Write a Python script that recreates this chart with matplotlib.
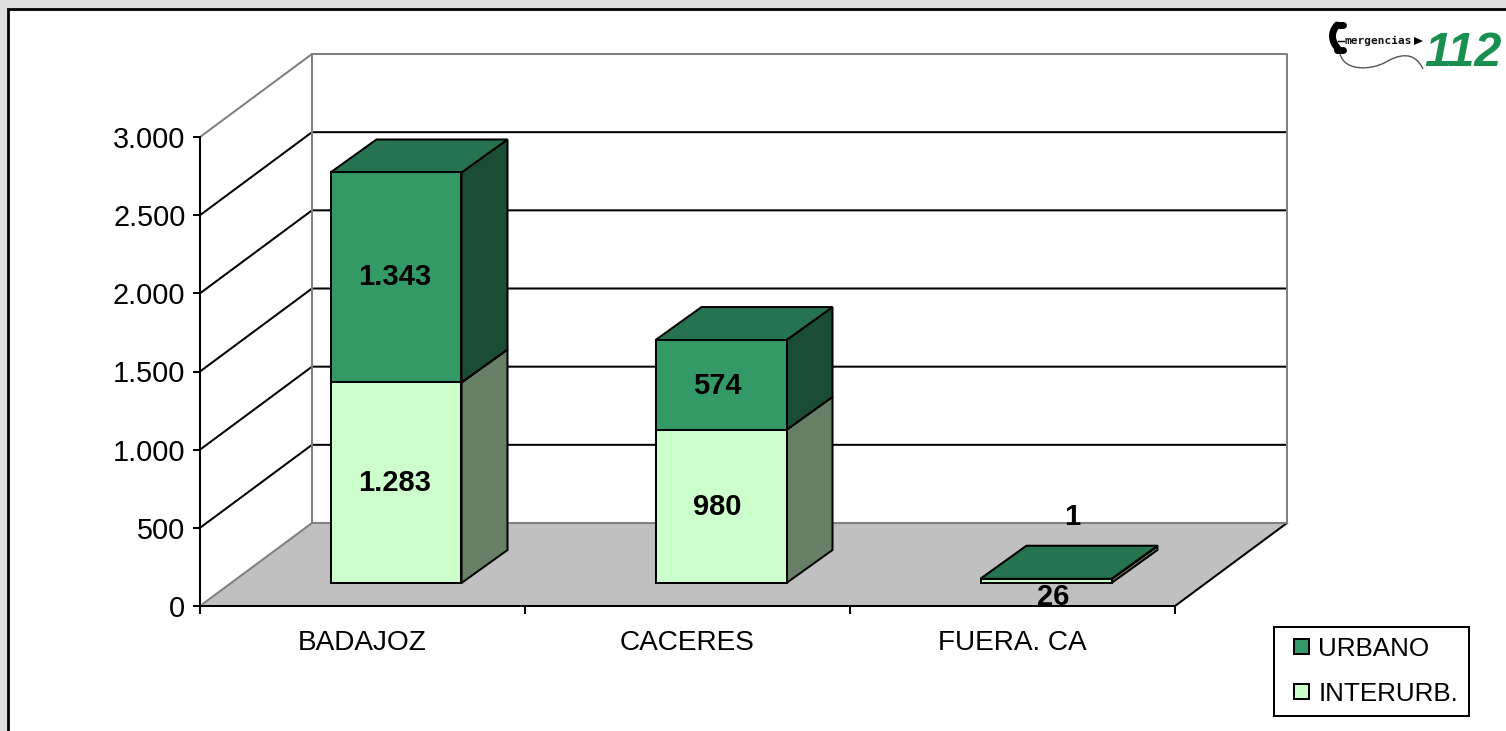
import matplotlib
matplotlib.use("Agg")
import matplotlib.pyplot as plt
from matplotlib.patches import Polygon, Patch, PathPatch, Rectangle
from matplotlib.path import Path
from matplotlib.ticker import FuncFormatter
from matplotlib.legend_handler import HandlerPatch

plt.rcParams['font.family'] = ['Liberation Sans', 'DejaVu Sans']

categories = ['BADAJOZ', 'CACERES', 'FUERA. CA']
interurb = [1283, 980, 26]
urbano = [1343, 574, 1]
interurb_labels = ['1.283', '980', '26']
urbano_labels = ['1.343', '574', '1']
yticks = [0, 500, 1000, 1500, 2000, 2500, 3000]

W, H = 1506, 731
UNIT_Y = 3000 / 469        # value units per pixel
UNIT_X = 3 / 975           # category units per pixel
WALL_DX, WALL_DY = 112 * UNIT_X, 83 * UNIT_Y
BAR_W = 131 * UNIT_X
BAR_OFF_X, BAR_OFF_Y = 33.5 * UNIT_X, 23 * UNIT_Y
BAR_DX, BAR_DY = 46 * UNIT_X, 33 * UNIT_Y
LW = 1.45
GREY = '#808080'

C_URB, C_URB_TOP, C_URB_SIDE = '#339966', '#267350', '#1a4d33'
C_INT, C_INT_TOP, C_INT_SIDE = '#ccffcc', '#99bf99', '#667f66'

fig = plt.figure(figsize=(W / 100, H / 100), dpi=100, facecolor='#dedede')

# page frame and logo, in pixel coordinates
bg = fig.add_axes([0, 0, 1, 1], zorder=0)
bg.set_xlim(0, W)
bg.set_ylim(H, 0)
bg.axis('off')
bg.add_patch(Polygon([(8, 9), (W + 5, 9), (W + 5, H + 5), (8, H + 5)],
                     facecolor='white', edgecolor='black', lw=2.0))
bg.text(1378.5, 40.5, 'mergencias', family='DejaVu Sans Mono', fontsize=8, weight='bold',
        ha='center', va='center', color='#111111')
bg.add_patch(Polygon([(1414, 37), (1423, 41), (1414, 45)], facecolor='black', edgecolor='none'))
bg.text(1463, 53, '112', family='Liberation Sans', fontsize=35, weight='bold', style='italic',
        ha='center', va='center', color='#1a9050')
bg.add_patch(PathPatch(Path([(1337, 25), (1327, 37), (1339, 50)],
                            [Path.MOVETO, Path.CURVE3, Path.CURVE3]),
                       facecolor='none', edgecolor='black', lw=5.0, capstyle='round'))
bg.plot([1337, 1343], [25, 25], color='black', lw=5.0, solid_capstyle='round')
bg.plot([1337, 1343], [50, 50], color='black', lw=5.0, solid_capstyle='round')
bg.plot([1338, 1344], [41, 41], color='black', lw=1.0)
bg.add_patch(PathPatch(Path([(1340, 54), (1345, 72), (1372, 70), (1386, 62),
                             (1398, 55), (1414, 50), (1423, 69)],
                            [Path.MOVETO] + [Path.CURVE4] * 6),
                       facecolor='none', edgecolor='#555555', lw=1.0))

# chart: axes rectangle is the front plane of the 3D box
ax = fig.add_axes([200 / W, (H - 606) / H, 975 / W, 469 / H], zorder=1)
ax.patch.set_visible(False)
ax.set_xlim(0, 3)
ax.set_ylim(0, 3000)
top = yticks[-1]

# floor
ax.add_patch(Polygon([(0, 0), (3, 0), (3 + WALL_DX, WALL_DY), (WALL_DX, WALL_DY)],
                     facecolor='#c0c0c0', edgecolor='none', clip_on=False, zorder=1))
ax.plot([3, 3 + WALL_DX], [0, WALL_DY], color='black', lw=LW, clip_on=False, zorder=2)
ax.plot([0, WALL_DX], [0, WALL_DY], color=GREY, lw=LW, clip_on=False, zorder=2)

# gridlines on side wall and back wall
for v in yticks[1:-1]:
    ax.plot([0, WALL_DX, 3 + WALL_DX], [v, v + WALL_DY, v + WALL_DY],
            color='black', lw=LW, clip_on=False, zorder=2)
# wall outline
ax.plot([0, WALL_DX, 3 + WALL_DX, 3 + WALL_DX, WALL_DX],
        [top, top + WALL_DY, top + WALL_DY, WALL_DY, WALL_DY],
        color=GREY, lw=LW, clip_on=False, zorder=2)
ax.plot([WALL_DX, WALL_DX], [WALL_DY, top + WALL_DY], color=GREY, lw=LW, clip_on=False, zorder=2)


def box(x0, y0, y1, face, topc, side, z):
    x1 = x0 + BAR_W
    kw = dict(edgecolor='black', lw=LW, clip_on=False, zorder=z, joinstyle='miter')
    ax.add_patch(Polygon([(x1, y0), (x1 + BAR_DX, y0 + BAR_DY),
                          (x1 + BAR_DX, y1 + BAR_DY), (x1, y1)], facecolor=side, **kw))
    ax.add_patch(Polygon([(x0, y1), (x1, y1), (x1 + BAR_DX, y1 + BAR_DY),
                          (x0 + BAR_DX, y1 + BAR_DY)], facecolor=topc, **kw))
    ax.add_patch(Polygon([(x0, y0), (x1, y0), (x1, y1), (x0, y1)], facecolor=face, **kw))


# bars
for i, (a, b) in enumerate(zip(interurb, urbano)):
    x0 = i + 0.5 - BAR_W / 2 + BAR_OFF_X
    base = BAR_OFF_Y
    box(x0, base, base + a, C_INT, C_INT_TOP, C_INT_SIDE, 3 + i)
    box(x0, base + a, base + a + b, C_URB, C_URB_TOP, C_URB_SIDE, 3 + i)

# value labels (pixel offsets only for the tiny third bar)
lab_font = dict(fontsize=21, weight='bold', ha='center', va='center', color='black',
                annotation_clip=False, zorder=10)
off_int = [(-0.7, 0), (-2.5, -0.7), (5.5, -11.5)]
off_urb = [(-0.7, 0), (-2.5, -0.7), (19, 44.5)]
for i, (a, b) in enumerate(zip(interurb, urbano)):
    xc = i + 0.5 + BAR_OFF_X
    base = BAR_OFF_Y
    ax.annotate(interurb_labels[i], (xc, base + a / 2), xytext=off_int[i],
                textcoords='offset points', **lab_font)
    ax.annotate(urbano_labels[i], (xc, base + a + b / 2), xytext=off_urb[i],
                textcoords='offset points', **lab_font)

# axes decoration
for s in ('top', 'right'):
    ax.spines[s].set_visible(False)
for s in ('left', 'bottom'):
    ax.spines[s].set_linewidth(LW)
    ax.spines[s].set_zorder(2.5)
ax.set_yticks(yticks)
ax.yaxis.set_major_formatter(FuncFormatter(lambda v, _: f'{int(v):,}'.replace(',', '.')))
ax.tick_params(axis='y', length=5, width=LW, pad=5.5, labelsize=20.8)
ax.set_xticks([0, 1, 2, 3])
ax.set_xticklabels([])
ax.tick_params(axis='x', which='major', length=6, width=LW)
ax.set_xticks([0.5, 1.5, 2.5], minor=True)
ax.set_xticklabels(categories, minor=True, fontsize=20.2)
ax.tick_params(axis='x', which='minor', length=0, pad=17)


# legend with small square keys, pushed to the right of their slot
def square_key(legend, orig_handle, xdescent, ydescent, width, height, fontsize):
    side = 11
    return Rectangle((width - side - xdescent, (height - side) / 2 - ydescent), side, side)


handles = [Patch(facecolor=C_URB, edgecolor='black', lw=LW, label='URBANO'),
           Patch(facecolor=C_INT, edgecolor='black', lw=LW, label='INTERURB.')]
leg = ax.legend(handles=handles, loc='upper left',
                bbox_to_anchor=(1274 / W, 1 - 715 / H, 195 / W, 88 / H),
                bbox_transform=fig.transFigure, mode='expand',
                handler_map={Patch: HandlerPatch(patch_func=square_key)},
                fontsize=18.7, frameon=True, fancybox=False,
                edgecolor='black', facecolor='white', framealpha=1, borderaxespad=0,
                handlelength=0.97, handleheight=0.7, handletextpad=0.35,
                labelspacing=0.8, borderpad=0.38)
leg.get_frame().set_linewidth(LW)

fig.savefig('out.png', dpi=100, facecolor=fig.get_facecolor())
